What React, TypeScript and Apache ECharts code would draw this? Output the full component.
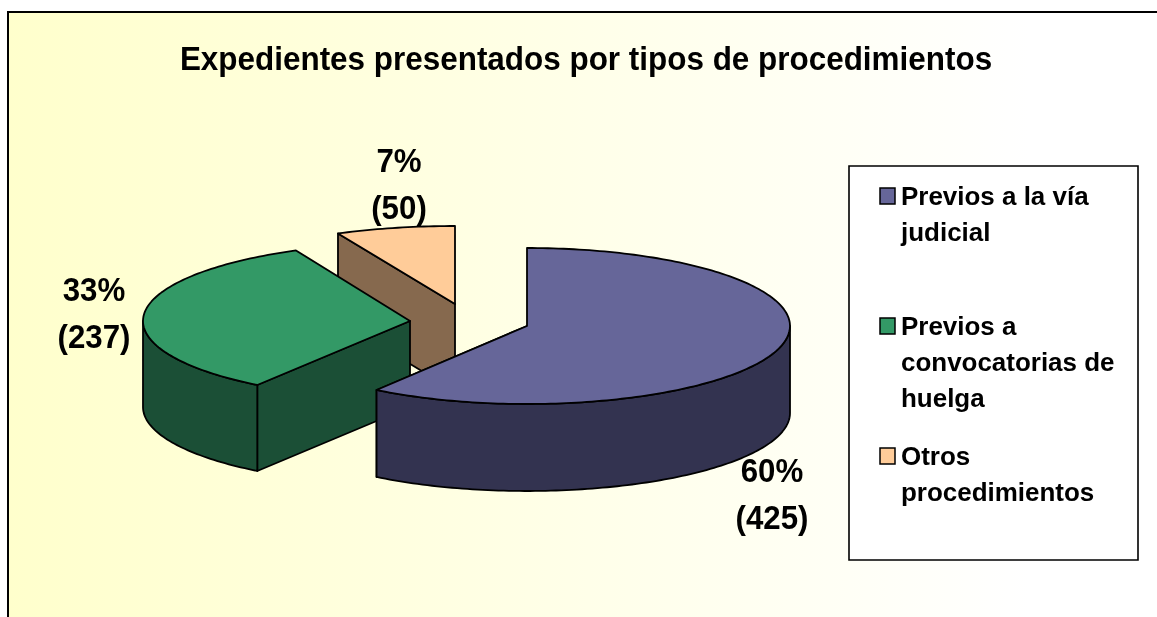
import React, { useEffect, useRef } from "react";
import * as echarts from "echarts";

const titleText = "Expedientes presentados por tipos de procedimientos";
const categories = ["Previos a la vía judicial", "Previos a convocatorias de huelga", "Otros procedimientos"];
const legendLines = [["Previos a la vía", "judicial"], ["Previos a", "convocatorias de", "huelga"], ["Otros", "procedimientos"]];
const values = [425, 237, 50];
const percentLabels = ["60%", "33%", "7%"];
const topColors = ["#666699", "#339966", "#FFCC99"];
const sideColors = ["#333350", "#1B4F36", "#86694E"];
const apexes = [[527, 326], [410, 321], [455, 304]];
const radiiX = [263, 267, 274];
const depths = [87, 86, 87];
const labelPositions = [[772, 494], [94, 313], [399, 184]];
const drawOrder = [2, 1, 0];

const RY = 78;
const FONT = '"Liberation Sans", Arial, sans-serif';

function pt(idx: number, a: number, dy = 0) {
  const [cx, cy] = apexes[idx];
  return [cx + radiiX[idx] * Math.sin(a), cy - RY * Math.cos(a) + dy];
}
function arc(idx: number, a0: number, a1: number, dy = 0) {
  const pts: number[][] = [];
  const n = Math.max(2, Math.ceil(Math.abs(a1 - a0) / 0.02));
  for (let i = 0; i <= n; i++) pts.push(pt(idx, a0 + ((a1 - a0) * i) / n, dy));
  return pts;
}

function sliceAngles(idx: number) {
  const total = values.reduce((s, v) => s + v, 0);
  let acc = 0;
  for (let i = 0; i < idx; i++) acc += values[i];
  return [(acc / total) * 2 * Math.PI, ((acc + values[idx]) / total) * 2 * Math.PI];
}

const line = { stroke: "#000", lineWidth: 1.8, lineJoin: "round" as const };

function renderSlice(params: any, api: any) {
  const idx = api.value(0) as number;
  const [a0, a1] = sliceAngles(idx);
  const [cx, cy] = apexes[idx];
  const depth = depths[idx];
  const side = sideColors[idx];
  const children: any[] = [];
  const poly = (points: number[][], fill: string) =>
    children.push({ type: "polygon", shape: { points }, style: { fill, ...line } });

  // Radial wall that faces the viewer
  const wall = (a: number) => {
    const p = pt(idx, a);
    poly([[cx, cy], p, [p[0], p[1] + depth], [cx, cy + depth]], side);
  };
  if (idx === 0) wall(a1);
  else wall(a0);

  // Outer rim: only the lower half of the ellipse is visible
  const rimStart = Math.max(a0, Math.PI / 2);
  const rimEnd = Math.min(a1, (3 * Math.PI) / 2);
  if (rimEnd > rimStart) {
    poly([...arc(idx, rimStart, rimEnd), ...arc(idx, rimEnd, rimStart, depth)], side);
  }

  // Top face
  poly([[cx, cy], ...arc(idx, a0, a1)], topColors[idx]);

  return { type: "group", children };
}

function renderLabels(params: any, api: any) {
  const idx = api.value(0) as number;
  const [x, y] = labelPositions[idx];
  return {
    type: "text",
    x,
    y,
    scaleX: 0.92,
    z2: 50,
    style: {
      text: `${percentLabels[idx]}\n(${values[idx]})`,
      fill: "#000",
      font: `bold 34px ${FONT}`,
      lineHeight: 47,
      align: "center",
      verticalAlign: "middle",
    },
  };
}

function legendGraphic() {
  const tops = [196, 326, 456];
  const children: any[] = [
    { type: "rect", shape: { x: 849, y: 166, width: 289, height: 394 }, style: { fill: "#fff", stroke: "#000", lineWidth: 1.6 } },
  ];
  legendLines.forEach((ls, i) => {
    children.push({
      type: "rect",
      shape: { x: 880, y: tops[i] - 8, width: 15, height: 16 },
      style: { fill: topColors[i], stroke: "#000", lineWidth: 1.5 },
    });
    ls.forEach((t, j) => {
      children.push({
        type: "text",
        x: 901,
        y: tops[i] + j * 36,
        scaleX: 0.98,
        style: { text: t, font: `bold 26.5px ${FONT}`, fill: "#000", verticalAlign: "middle", align: "left" },
      });
    });
  });
  return children;
}

export default function App() {
  const ref = useRef<HTMLDivElement>(null);
  useEffect(() => {
    const chart = echarts.init(ref.current!, undefined, { renderer: "svg" });
    const order = drawOrder.map((i) => [i, values[i], categories[i]]);
    chart.setOption({
      animation: false,
      graphic: {
        elements: [
          {
            type: "rect",
            silent: true,
            z: -10,
            shape: { x: 8, y: 12, width: 1160, height: 640 },
            style: {
              fill: new echarts.graphic.LinearGradient(0, 0, 1, 0, [
                { offset: 0, color: "#FFFFCC" },
                { offset: 0.88, color: "#FFFFFF" },
                { offset: 1, color: "#FFFFFF" },
              ]),
              stroke: "#000",
              lineWidth: 2,
            },
          },
          {
            type: "text",
            z: 20,
            x: 586,
            y: 58,
            scaleX: 0.925,
            style: { text: titleText, font: `bold 34px ${FONT}`, fill: "#000", align: "center", verticalAlign: "middle" },
          },
          { type: "group", z: 20, children: legendGraphic() },
        ],
      },
      series: [
        { type: "custom", coordinateSystem: "none", renderItem: renderSlice, data: order, z: 5, silent: true },
        { type: "custom", coordinateSystem: "none", renderItem: renderLabels, data: order, z: 6, silent: true },
      ],
    });
    return () => chart.dispose();
  }, []);
  return <div ref={ref} style={{ position: "fixed", left: 0, top: 0, width: 1157, height: 617, overflow: "hidden" }} />;
}
